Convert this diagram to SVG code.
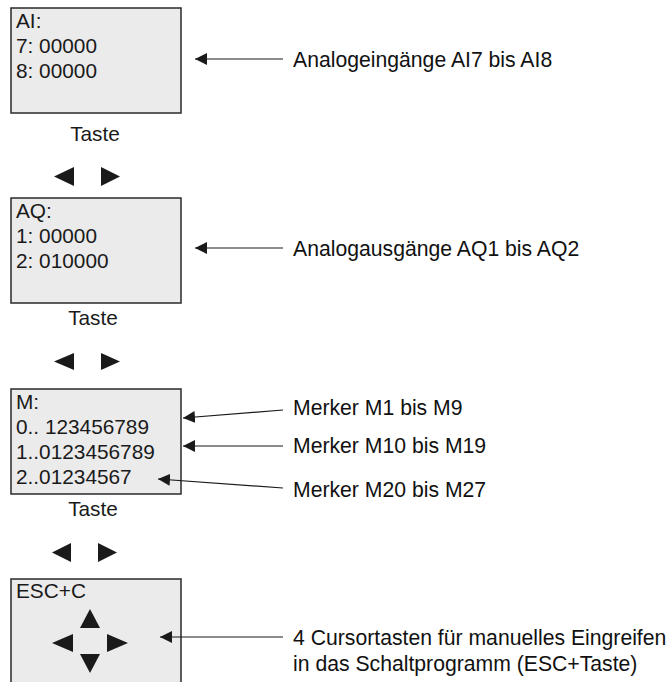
<svg xmlns="http://www.w3.org/2000/svg" width="669" height="682" viewBox="0 0 669 682">
<defs>
<style>
.box{fill:#ebebeb;stroke:#2a2a2a;stroke-width:1.5}
.t{font-family:"Liberation Sans",Arial,sans-serif;font-size:20.8px;fill:#1a1a1a}
.lbl{font-family:"Liberation Sans",Arial,sans-serif;font-size:21.2px;fill:#111}
.tri{fill:#1a1a1a}
.ln{stroke:#1a1a1a;stroke-width:1.2;fill:none}
</style>
<marker id="ah" viewBox="0 0 12 12" refX="12" refY="6" markerWidth="12" markerHeight="12" markerUnits="userSpaceOnUse" orient="auto">
<path d="M12,6 L0,0 L0,12 Z" fill="#1a1a1a"/>
</marker>
</defs>
<rect width="669" height="682" fill="#fff"/>

<g id="node-ai">
<rect class="box" x="11" y="8" width="170" height="105"/>
<text class="t" x="16" y="28">AI:</text>
<text class="t" x="16" y="53">7: 00000</text>
<text class="t" x="16" y="78">8: 00000</text>
</g>
<g id="taste-1">
<text class="t" x="95" y="141" text-anchor="middle">Taste</text>
<polygon class="tri" points="54,176.5 74,167 74,186"/>
<polygon class="tri" points="101,167 120,176.5 101,186"/>
</g>

<g id="node-aq">
<rect class="box" x="11" y="198" width="170" height="105"/>
<text class="t" x="16" y="218">AQ:</text>
<text class="t" x="16" y="243">1: 00000</text>
<text class="t" x="16" y="268">2: 010000</text>
</g>
<g id="taste-2">
<text class="t" x="93" y="325" text-anchor="middle">Taste</text>
<polygon class="tri" points="54,361.5 74,353 74,370"/>
<polygon class="tri" points="101,353 120,361.5 101,370"/>
</g>

<g id="node-m">
<rect class="box" x="11" y="389" width="170" height="105"/>
<text class="t" x="16" y="409">M:</text>
<text class="t" x="16" y="434">0.. 123456789</text>
<text class="t" x="16" y="459">1..0123456789</text>
<text class="t" x="16" y="484">2..01234567</text>
</g>
<g id="taste-3">
<text class="t" x="93" y="516" text-anchor="middle">Taste</text>
<polygon class="tri" points="52,552.5 71,543 71,562"/>
<polygon class="tri" points="98,543 117,552.5 98,562"/>
</g>

<g id="node-esc">
<rect class="box" x="11" y="579" width="170" height="112"/>
<text class="t" x="16" y="598">ESC+C</text>
<polygon class="tri" points="90,609 100,628 80,628"/>
<polygon class="tri" points="52,643 73,634 73,652"/>
<polygon class="tri" points="107,634 128,643 107,652"/>
<polygon class="tri" points="80,654 100,654 90,673"/>
</g>

<g id="labels">
<text class="lbl" x="293" y="67">Analogeingänge AI7 bis AI8</text>
<text class="lbl" x="293" y="256">Analogausgänge AQ1 bis AQ2</text>
<text class="lbl" x="293" y="415">Merker M1 bis M9</text>
<text class="lbl" x="293" y="453">Merker M10 bis M19</text>
<text class="lbl" x="293" y="497">Merker M20 bis M27</text>
<text class="lbl" x="293" y="645">4 Cursortasten für manuelles Eingreifen</text>
<text class="lbl" x="293" y="671">in das Schaltprogramm (ESC+Taste)</text>
</g>

<g id="connectors">
<line class="ln" x1="283" y1="59" x2="195" y2="59" marker-end="url(#ah)"/>
<line class="ln" x1="283" y1="248" x2="195" y2="248" marker-end="url(#ah)"/>
<line class="ln" x1="283" y1="410" x2="183" y2="418" marker-end="url(#ah)"/>
<line class="ln" x1="283" y1="446" x2="183" y2="446" marker-end="url(#ah)"/>
<line class="ln" x1="283" y1="488" x2="158" y2="479" marker-end="url(#ah)"/>
<line class="ln" x1="283" y1="637" x2="160" y2="637" marker-end="url(#ah)"/>
</g>
</svg>
